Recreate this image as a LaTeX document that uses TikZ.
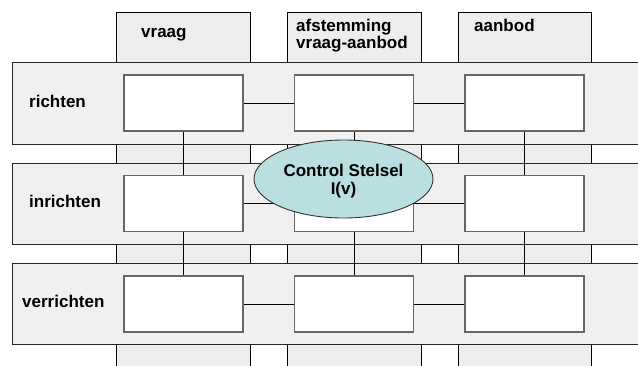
\documentclass[tikz,border=0pt]{standalone}
\usepackage{fontspec}
\setmainfont{Liberation Sans}
\usepackage{xcolor}
\usetikzlibrary{shapes.geometric}
\usetikzlibrary{positioning}

\definecolor{bandgray}{RGB}{240,240,240}
\definecolor{colgray}{RGB}{237,237,237}
\definecolor{ctrlblue}{RGB}{185,223,225}

\tikzset{
  band/.style={draw=black!85, fill=bandgray, line width=0.9pt},
  colstrip/.style={draw=black, fill=colgray, line width=0.9pt},
  cell/.style={draw=black!60, fill=white, line width=1.4pt, minimum width=119pt, minimum height=56pt, inner sep=0pt},
  txt/.style={font=\bfseries\fontsize{17}{17.5}\selectfont, inner sep=0pt, anchor=base west},
  link/.style={draw=black, line width=0.9pt}
}

\begin{document}
\begin{tikzpicture}[x=1pt,y=-1pt]
  \useasboundingbox (0,0) rectangle (638,365);
  \clip (0,0) rectangle (638,365);
  % columns
  \foreach \xa/\xb in {116/250, 287/421, 458/591} \draw[colstrip] (\xa,12) rectangle (\xb,375);
  \node[txt] (vraag) at (141,37.5) {vraag};
  \node[txt, align=left] (afst) at (296,48.5) {afstemming\\vraag-aanbod};
  \node[txt] (aanbod) at (474,31) {aanbod};
  % rows
  \draw[band] (12,62) rectangle (650,144);
  \draw[band] (12,163) rectangle (650,244);
  \draw[band] (12,263) rectangle (650,344);
  \node[txt] (richten) at (29,107.5) {richten};
  \node[txt] (inrichten) at (29,207) {inrichten};
  \node[txt] (verrichten) at (22,307.5) {verrichten};
  % cells
  \node[cell] (v1) at (183.5,103) {};
  \node[cell] (m1) at (354,103) {};
  \node[cell] (a1) at (524.5,103) {};
  \node[cell] (v2) at (183.5,203.5) {};
  \node[cell] (m2) at (354,203.5) {};
  \node[cell] (a2) at (524.5,203.5) {};
  \node[cell] (v3) at (183.5,304) {};
  \node[cell] (m3) at (354,304) {};
  \node[cell] (a3) at (524.5,304) {};
  % links
  \foreach \r in {1,2,3} {
    \draw[link] (v\r) -- (m\r);
    \draw[link] (m\r) -- (a\r);
  }
  \foreach \c in {v,m,a} {
    \draw[link] (\c1) -- (\c2);
    \draw[link] (\c2) -- (\c3);
  }
  % control
  \node[ellipse, draw=black!80, fill=ctrlblue, line width=0.9pt, minimum width=179pt, minimum height=78pt, inner sep=0pt, align=center, font=\bfseries\fontsize{17}{18}\selectfont] (ctrl) at (343.5,179) {};
  \node[align=center, inner sep=0pt, font=\bfseries\fontsize{17}{18}\selectfont] (ctrltxt) at ([yshift=-2pt]ctrl.center) {Control Stelsel\\I(v)};
\end{tikzpicture}
\end{document}
